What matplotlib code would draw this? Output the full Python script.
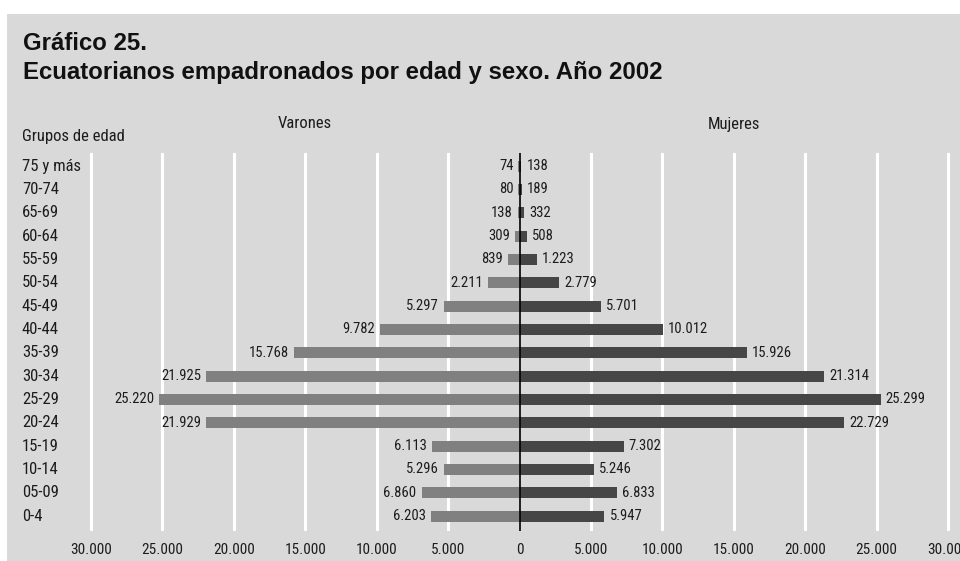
import matplotlib.pyplot as plt
from matplotlib.patches import Rectangle

grupos = ["0-4", "05-09", "10-14", "15-19", "20-24", "25-29", "30-34", "35-39",
          "40-44", "45-49", "50-54", "55-59", "60-64", "65-69", "70-74", "75 y más"]
varones = [6203, 6860, 5296, 6113, 21929, 25220, 21925, 15768,
           9782, 5297, 2211, 839, 309, 138, 80, 74]
mujeres = [5947, 6833, 5246, 7302, 22729, 25299, 21314, 15926,
           10012, 5701, 2779, 1223, 508, 332, 189, 138]
ticks = [-30000, -25000, -20000, -15000, -10000, -5000, 0,
         5000, 10000, 15000, 20000, 25000, 30000]

BG = "#d9d9d9"
TXT = "#1c1c1c"
NARROW = dict(family=["Liberation Sans Narrow", "Roboto Condensed",
                      "DejaVu Sans Condensed", "Liberation Sans"],
              fontstretch="condensed", color=TXT)


def miles(v):
    return f"{abs(v):,}".replace(",", ".")


fig = plt.figure(figsize=(9.6, 5.61), dpi=100)
fig.patch.set_facecolor("white")
fig.add_artist(Rectangle((7 / 960, 0), 1, 1 - 14 / 561, transform=fig.transFigure,
                         facecolor=BG, edgecolor="none", zorder=-10))

ax = fig.add_axes([79 / 960, 1 - 531 / 561, 881 / 960, 378 / 561])
ax.patch.set_alpha(0)

y = list(range(len(grupos)))
ax.barh(y, [-v for v in varones], height=0.47, color="#808080", zorder=2)
ax.barh(y, mujeres, height=0.47, color="#464646", zorder=2)

# value labels beside each bar end
for yi, v in zip(y, varones):
    ax.annotate(miles(v), xy=(-v, yi), xytext=(-5, 0), textcoords="offset pixels",
                ha="right", va="center", fontsize=10.5, **NARROW)
for yi, v in zip(y, mujeres):
    ax.annotate(miles(v), xy=(v, yi), xytext=(5, 0), textcoords="offset pixels",
                ha="left", va="center", fontsize=10.5, **NARROW)

for t in ticks:
    if t != 0:
        ax.axvline(t, color="white", lw=2.2, zorder=1)
ax.axvline(0, color="black", lw=1.2, zorder=3)

ax.set_xlim(-30840, 30840)
ax.set_ylim(-0.64, 15.56)
ax.set_xticks(ticks)
ax.set_xticklabels([miles(t) for t in ticks])
for lab in ax.get_xticklabels():
    lab.set(fontsize=11, **NARROW)
ax.tick_params(axis="x", length=0, pad=9)
ax.set_yticks([])
for s in ax.spines.values():
    s.set_visible(False)

# age group names in a fixed column at the left
trans = ax.get_yaxis_transform()
for yi, g in zip(y, grupos):
    ax.annotate(g, xy=(0, yi), xycoords=trans, xytext=(22 - 79, 0),
                textcoords="offset pixels", ha="left", va="center",
                fontsize=12, **NARROW)

fig.text(23 / 960, 1 - 43 / 561, "Gráfico 25.", fontsize=17.3, fontweight="bold",
         family="Liberation Sans", va="center", color="#111111")
fig.text(23 / 960, 1 - 73 / 561, "Ecuatorianos empadronados por edad y sexo. Año 2002",
         fontsize=17.3, fontweight="bold", family="Liberation Sans", va="center",
         color="#111111")
fig.text(22 / 960, 1 - 137 / 561, "Grupos de edad", va="center", fontsize=12, **NARROW)
fig.text(305 / 960, 1 - 124 / 561, "Varones", va="center", ha="center",
         fontsize=12, **NARROW)
fig.text(734 / 960, 1 - 124 / 561, "Mujeres", va="center", ha="center",
         fontsize=12, **NARROW)

fig.savefig("out.png", dpi=100, facecolor=fig.get_facecolor())
